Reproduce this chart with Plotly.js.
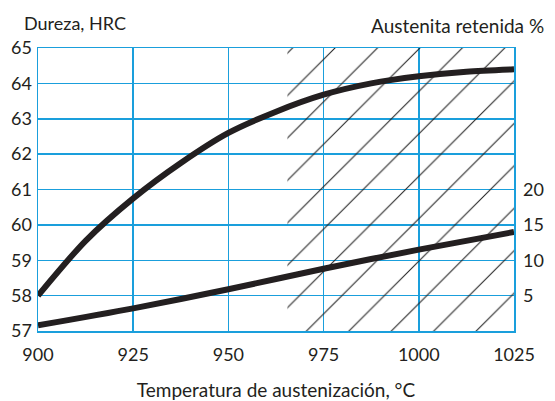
<!DOCTYPE html>
<html>
<head>
<meta charset="utf-8">
<script src="https://cdn.plot.ly/plotly-3.0.1.min.js"></script>
<style>html,body{margin:0;padding:0;background:#fff;}#chart{width:555px;height:401px;}</style>
</head>
<body>
<div id="chart"></div>
<script>
// Data
var hardTemp = [900, 912.5, 925, 937.5, 950, 962.5, 975, 987.5, 1000, 1012.5, 1025];
var hardHRC  = [58.0, 59.55, 60.75, 61.75, 62.6, 63.2, 63.68, 64.0, 64.2, 64.33, 64.4];
var austTemp = [900, 925, 950, 975, 1000, 1025];
var austPct  = [0.8, 3.2, 5.9, 8.8, 11.5, 14.0];
var hatchTemp = [965.5, 1025];
var xTicks = [900, 925, 950, 975, 1000, 1025];
var yTicks = [57, 58, 59, 60, 61, 62, 63, 64, 65];
var y2Ticks = [5, 10, 15, 20];

var blue = '#1a9fdc';
var ink = '#231f20';
var fontFam = 'Lato, "Open Sans", sans-serif';

var traces = [
  {
    x: [hatchTemp[0], hatchTemp[1], hatchTemp[1], hatchTemp[0], hatchTemp[0]],
    y: [yTicks[0], yTicks[0], yTicks[yTicks.length-1], yTicks[yTicks.length-1], yTicks[0]],
    type: 'scatter', mode: 'lines', fill: 'toself',
    line: {width: 0, color: 'rgba(0,0,0,0)'},
    fillcolor: 'rgba(0,0,0,0)',
    fillpattern: {shape: '/', size: 30, solidity: 0.035, fgcolor: '#222', bgcolor: 'rgba(0,0,0,0)'},
    hoverinfo: 'skip', showlegend: false
  },
  {
    x: hardTemp, y: hardHRC, type: 'scatter', mode: 'lines',
    line: {color: ink, width: 6, shape: 'spline', smoothing: 0.8},
    showlegend: false
  },
  {
    x: austTemp, y: austPct, type: 'scatter', mode: 'lines', yaxis: 'y2',
    line: {color: ink, width: 6, shape: 'spline', smoothing: 0.8},
    showlegend: false
  }
];

var layout = {
  width: 555, height: 401,
  margin: {l: 38, r: 41, t: 48, b: 70},
  paper_bgcolor: '#fff', plot_bgcolor: '#fff',
  font: {family: fontFam, size: 18, color: ink},
  showlegend: false,
  xaxis: {
    range: [900, 1025], tickvals: xTicks, ticktext: xTicks.map(String),
    showgrid: true, gridcolor: blue, gridwidth: 1.5,
    showline: true, linecolor: blue, linewidth: 1.5, mirror: true,
    zeroline: false, ticks: '', ticklabelstandoff: 7,
    tickfont: {size: 18, color: ink},
    title: {text: 'Temperatura de austenización, °C', font: {size: 19, color: ink}, standoff: 21}
  },
  yaxis: {
    range: [57, 65], tickvals: yTicks, ticktext: yTicks.map(String),
    showgrid: true, gridcolor: blue, gridwidth: 1.5,
    showline: true, linecolor: blue, linewidth: 1.5, mirror: true,
    zeroline: false, ticks: '', ticklabelstandoff: 1,
    tickfont: {size: 18, color: ink}
  },
  yaxis2: {
    overlaying: 'y', side: 'right', range: [0, 40],
    tickvals: y2Ticks, ticktext: y2Ticks.map(String),
    showgrid: false, zeroline: false, showline: false, ticks: '',
    ticklabelstandoff: 8,
    tickfont: {size: 18, color: ink}
  },
  annotations: [
    {text: 'Dureza, HRC', xref: 'paper', yref: 'paper', x: -0.034, y: 1.088,
     xanchor: 'left', yanchor: 'middle', showarrow: false, font: {size: 18, color: ink}},
    {text: 'Austenita retenida %', xref: 'paper', yref: 'paper', x: 1.068, y: 1.08,
     xanchor: 'right', yanchor: 'middle', showarrow: false, font: {size: 19, color: ink}}
  ]
};

Plotly.newPlot('chart', traces, layout, {displayModeBar: false, staticPlot: true});
</script>
</body>
</html>
